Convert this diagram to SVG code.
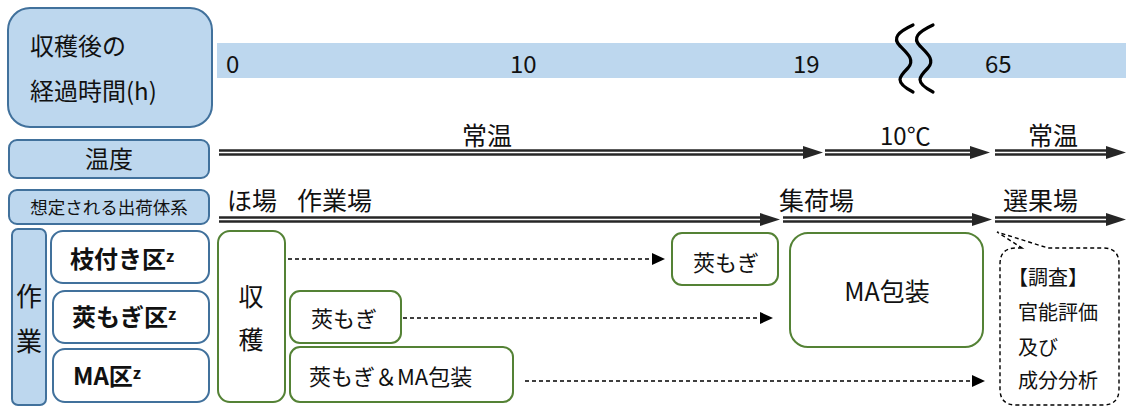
<svg xmlns="http://www.w3.org/2000/svg" width="1126" height="407" viewBox="0 0 1126 407">
<style>
text{font-family:"Noto Sans CJK JP","Noto Sans",sans-serif;fill:#111}
.hdr{fill:#BDD7EE;stroke:#41719C;stroke-width:2}
.wbox{fill:#fff;stroke:#41719C;stroke-width:2}
.gbox{fill:#fff;stroke:#548235;stroke-width:2}
.dout{stroke:#262626;stroke-width:6.5;fill:none}
.din{stroke:#fff;stroke-width:1.6;fill:none}
.head{fill:#262626}
.dash{stroke:#000;stroke-width:1.4;stroke-dasharray:4 3;fill:none}
.dhead{fill:#000}
.b{font-weight:bold}
.lbl{font-size:25px}
</style>

<g id="time-header">
<rect class="hdr" x="8" y="8" width="204" height="119" rx="22"/>
<text x="30" y="55" font-size="24">収穫後の</text>
<text x="30" y="99.5" font-size="24">経過時間(h)</text>
</g>

<g id="time-band">
<rect x="217" y="43" width="909" height="35" fill="#BDD7EE"/>
<text x="226" y="73" font-size="24">0</text>
<text x="510" y="73" font-size="24">10</text>
<text x="793" y="73" font-size="24">19</text>
<text x="985" y="73" font-size="24">65</text>
<path d="M913,25 C898,32 892,38 900,46 C908,54 915,60 908,68 C900,76 893,82 913,92" fill="none" stroke="#000" stroke-width="3.2" stroke-linecap="round"/>
<path d="M933,25 C918,32 912,38 920,46 C928,54 935,60 928,68 C920,76 913,82 933,92" fill="none" stroke="#000" stroke-width="3.2" stroke-linecap="round"/>
</g>

<g id="temp-label">
<rect class="hdr" x="9" y="140" width="200" height="38" rx="8"/>
<text x="109" y="167.5" font-size="24" text-anchor="middle">温度</text>
</g>

<g id="ship-label">
<rect class="hdr" x="9" y="190" width="200" height="34" rx="8"/>
<text x="109" y="213.5" font-size="17.5" text-anchor="middle">想定される出荷体系</text>
</g>

<g id="work-label">
<rect class="hdr" x="12" y="229" width="34" height="176" rx="6"/>
<text x="29" y="306" font-size="26" text-anchor="middle">作</text>
<text x="29" y="351" font-size="26" text-anchor="middle">業</text>
</g>

<g id="row-eda">
<rect class="wbox" x="51" y="231" width="158" height="52" rx="12"/>
<text class="b" x="70" y="268" font-size="24">枝付き区<tspan font-size="16" dy="-6">z</tspan></text>
</g>
<g id="row-saya">
<rect class="wbox" x="53" y="291" width="156" height="52" rx="12"/>
<text class="b" x="72" y="326" font-size="24">莢もぎ区<tspan font-size="16" dy="-6">z</tspan></text>
</g>
<g id="row-ma">
<rect class="wbox" x="53" y="349" width="156" height="53" rx="12"/>
<text class="b" x="73" y="385" font-size="24">MA区<tspan font-size="16" dy="-6">z</tspan></text>
</g>

<g id="harvest">
<rect class="gbox" x="218" y="231" width="67" height="171" rx="12"/>
<text x="251" y="306" font-size="25" text-anchor="middle">収</text>
<text x="251" y="349" font-size="25" text-anchor="middle">穫</text>
</g>

<g id="saya-early">
<rect class="gbox" x="290" y="291" width="111" height="52" rx="10"/>
<text x="311" y="327" font-size="22">莢もぎ</text>
</g>

<g id="saya-ma">
<rect class="gbox" x="290" y="347" width="223" height="55" rx="10"/>
<text x="309" y="385" font-size="22">莢もぎ＆MA包装</text>
</g>

<g id="saya-late">
<rect class="gbox" x="672" y="233" width="106" height="52" rx="10"/>
<text x="693" y="271" font-size="22">莢もぎ</text>
</g>

<g id="ma-pack">
<rect class="gbox" x="790" y="233" width="193" height="114" rx="18"/>
<text x="887" y="301" font-size="25" text-anchor="middle">MA包装</text>
</g>

<g id="survey">
<path d="M1022,248 L1016,248 Q1000,248 1000,264 L1000,389 Q1000,405 1016,405 L1103,405 Q1119,405 1119,389 L1119,264 Q1119,248 1103,248 L1048,248 L997,232 Z" fill="#fff" stroke="#000" stroke-width="1.4" stroke-dasharray="4 3"/>
<text x="1008" y="285" font-size="20">【調査】</text>
<text x="1018" y="320" font-size="20">官能評価</text>
<text x="1018" y="355" font-size="20">及び</text>
<text x="1018" y="388" font-size="20">成分分析</text>
</g>

<g id="connectors">
<line class="dout" x1="219" y1="152.5" x2="806" y2="152.5"/><line class="din" x1="219" y1="152.5" x2="806" y2="152.5"/>
<polygon class="head" points="803,146 823,152.5 803,159"/>
<line class="dout" x1="825" y1="152.5" x2="973" y2="152.5"/><line class="din" x1="825" y1="152.5" x2="973" y2="152.5"/>
<polygon class="head" points="970,146 990,152.5 970,159"/>
<line class="dout" x1="995" y1="152.5" x2="1109" y2="152.5"/><line class="din" x1="995" y1="152.5" x2="1109" y2="152.5"/>
<polygon class="head" points="1106,146 1126,152.5 1106,159"/>

<line class="dout" x1="219" y1="219.5" x2="763" y2="219.5"/><line class="din" x1="219" y1="219.5" x2="763" y2="219.5"/>
<polygon class="head" points="760,213 780,219.5 760,226"/>
<line class="dout" x1="783" y1="219.5" x2="975" y2="219.5"/><line class="din" x1="783" y1="219.5" x2="975" y2="219.5"/>
<polygon class="head" points="972,213 992,219.5 972,226"/>
<line class="dout" x1="995" y1="219.5" x2="1109" y2="219.5"/><line class="din" x1="995" y1="219.5" x2="1109" y2="219.5"/>
<polygon class="head" points="1106,213 1126,219.5 1106,226"/>

<line class="dash" x1="288" y1="259" x2="653" y2="259"/>
<polygon class="dhead" points="652,253 665,259 652,265"/>
<line class="dash" x1="403" y1="318" x2="761" y2="318"/>
<polygon class="dhead" points="760,312 773,318 760,324"/>
<line class="dash" x1="525" y1="381" x2="973" y2="381"/>
<polygon class="dhead" points="972,375 985,381 972,387"/>
</g>

<g id="labels">
<text class="lbl" x="487" y="144.5" text-anchor="middle">常温</text>
<text x="880" y="144.5" font-size="24">10℃</text>
<text class="lbl" x="1028" y="144.5">常温</text>
<text class="lbl" x="227" y="210">ほ場</text>
<text class="lbl" x="297" y="210">作業場</text>
<text class="lbl" x="779" y="210">集荷場</text>
<text class="lbl" x="1003" y="210">選果場</text>
</g>
</svg>
